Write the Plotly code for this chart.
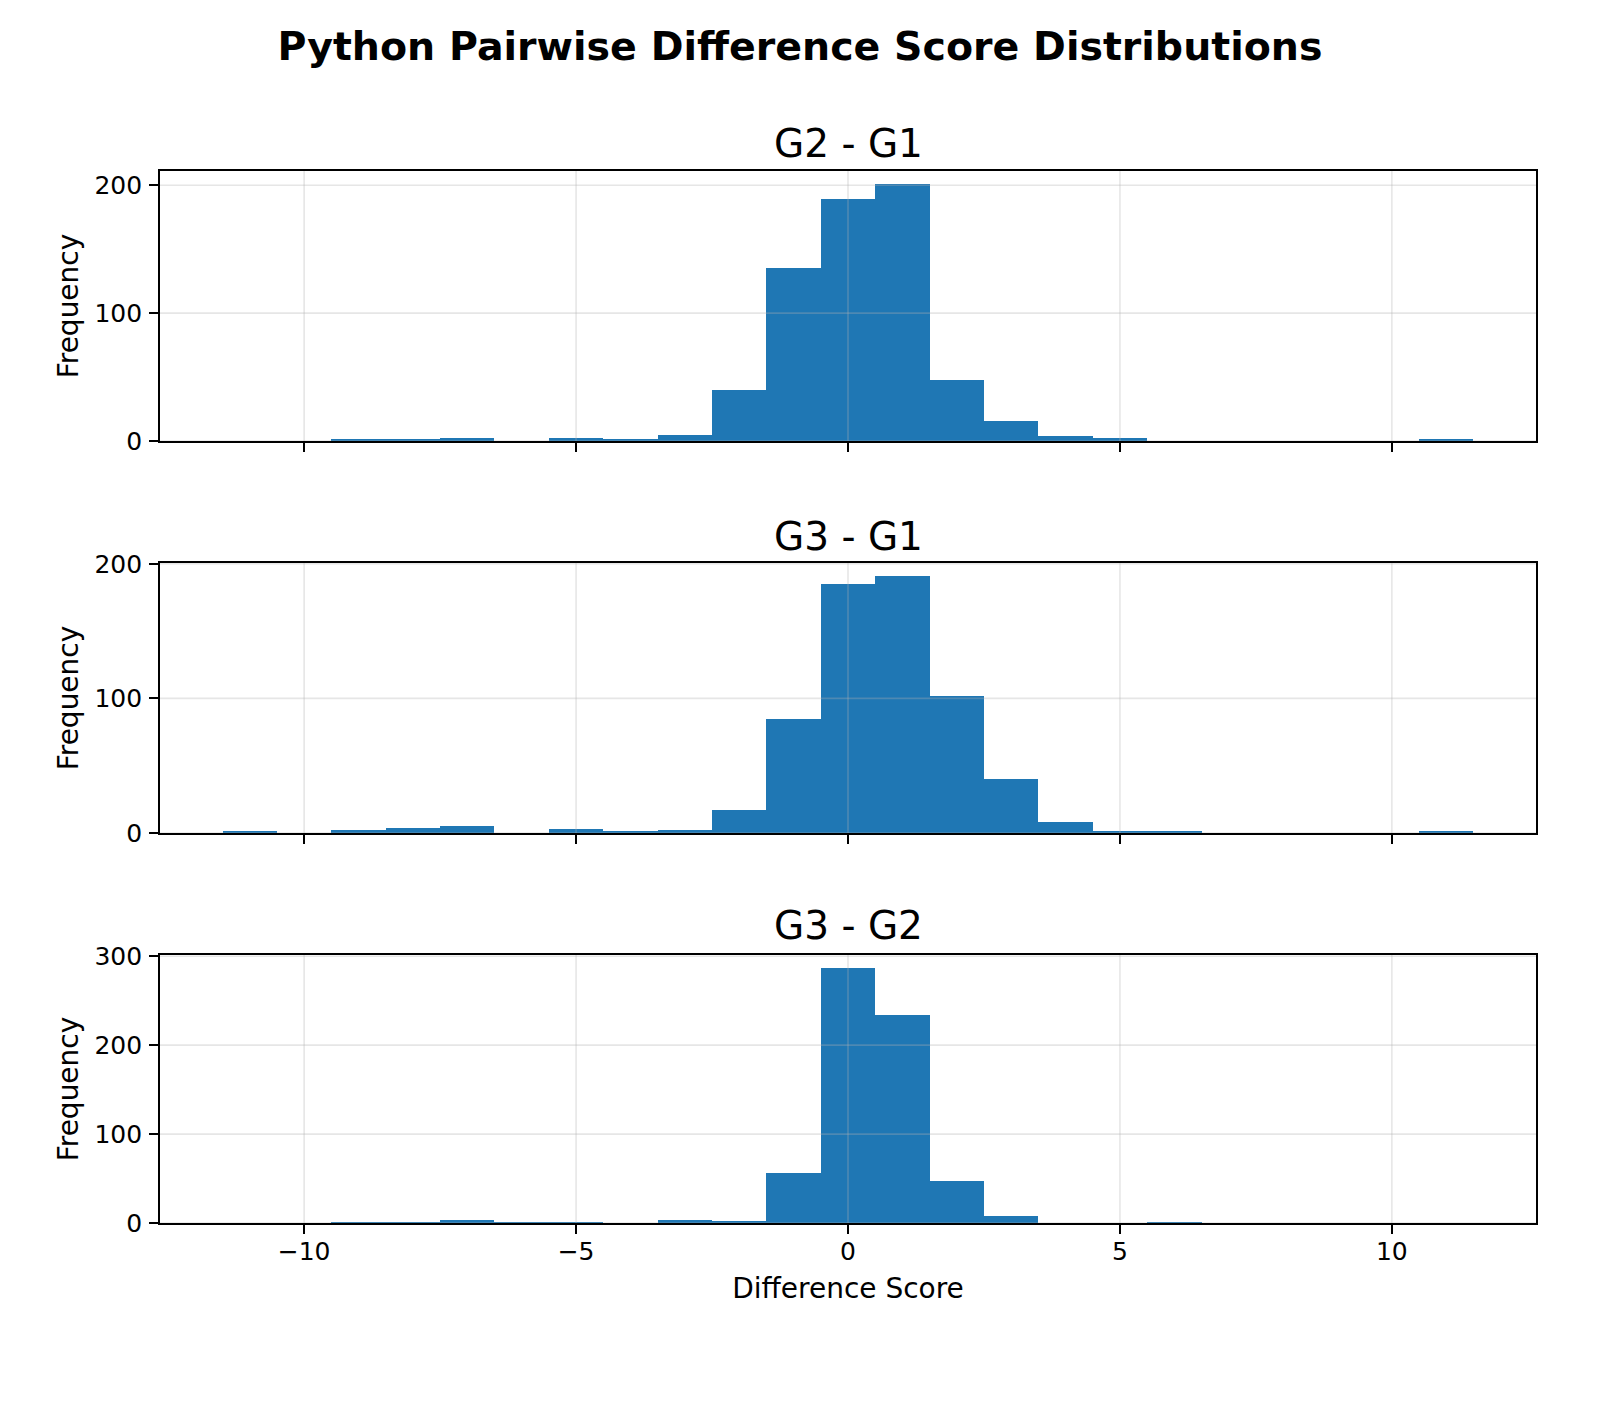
import plotly.graph_objects as go

# ---- data ----
bin_centers = list(range(-11, 12))  # bins of width 1 from -11.5 to 11.5

g2_g1 = [0, 0, 1, 1, 2, 0, 2, 1, 5, 40, 135, 189, 201, 48, 16, 4, 2, 0, 0, 0, 0, 0, 1]
g3_g1 = [1, 0, 2, 4, 5, 0, 3, 1, 2, 17, 85, 185, 191, 102, 40, 8, 1, 1, 0, 0, 0, 0, 1]
g3_g2 = [0, 0, 1, 1, 3, 1, 1, 0, 3, 2, 56, 287, 234, 47, 8, 0, 0, 1, 0, 0, 0, 0, 0]

panel_titles = ["G2 - G1", "G3 - G1", "G3 - G2"]
series = [g2_g1, g3_g1, g3_g2]
y_ranges = [[0, 211.2], [0, 200.6], [0, 301.4]]
y_ticks = [[0, 100, 200], [0, 100, 200], [0, 100, 200, 300]]
x_ticks = [-10, -5, 0, 5, 10]
x_range = [-12.65, 12.65]

# ---- layout geometry ----
W, H = 1600, 1423
ml, mr, mt, mb = 160, 64, 171, 200
ph = H - mt - mb
def py(p):
    return (H - mb - p) / ph

domains = [[py(441), 1.0], [py(833), py(563)], [0.0, py(955)]]
title_y = [py(143), py(536), py(925)]

FONT = "DejaVu Sans"
BLUE = "#1f77b4"
GRID = "rgba(176,176,176,0.32)"
TICK_FS = 25
LABEL_FS = 28

fig = go.Figure()
layout = dict(
    width=W, height=H,
    margin=dict(l=ml, r=mr, t=mt, b=mb, pad=0),
    paper_bgcolor="white", plot_bgcolor="white",
    showlegend=False, bargap=0,
    font=dict(family=FONT, size=TICK_FS, color="black"),
    title=dict(text="<b>Python Pairwise Difference Score Distributions</b>",
               x=0.5, xref="container", xanchor="center",
               y=1 - 46 / H, yref="container", yanchor="middle",
               font=dict(family=FONT, size=39.5, color="black")),
)

shapes = []
annotations = []
for i in range(3):
    xa = "x" if i == 0 else f"x{i+1}"
    ya = "y" if i == 0 else f"y{i+1}"
    fig.add_trace(go.Bar(x=bin_centers, y=series[i], width=1,
                         marker=dict(color=BLUE, line=dict(width=0)),
                         xaxis=xa, yaxis=ya, hoverinfo="x+y"))
    axkey = "" if i == 0 else str(i + 1)
    layout["xaxis" + axkey] = dict(
        domain=[0, 1], anchor=ya, range=x_range, tickvals=x_ticks,
        showticklabels=(i == 2), ticks="outside", ticklen=9, tickwidth=1.6,
        tickcolor="black", showline=True, linecolor="black", linewidth=1.6,
        mirror=True, showgrid=False, zeroline=False,
        ticklabelstandoff=-4,
        tickfont=dict(family=FONT, size=TICK_FS),
        title=dict(text="Difference Score" if i == 2 else "",
                   font=dict(family=FONT, size=LABEL_FS), standoff=14),
    )
    if i != 0:
        layout["xaxis" + axkey]["matches"] = "x"
    layout["yaxis" + axkey] = dict(
        domain=domains[i], anchor=xa, range=y_ranges[i], tickvals=y_ticks[i],
        ticks="outside", ticklen=9, tickwidth=1.6, tickcolor="black",
        showline=True, linecolor="black", linewidth=1.6, mirror=True,
        showgrid=False, zeroline=False,
        ticklabelstandoff=2,
        tickfont=dict(family=FONT, size=TICK_FS),
        title=dict(text="Frequency", font=dict(family=FONT, size=LABEL_FS), standoff=8),
    )
    # grid lines drawn above bars (as in the reference)
    for xv in x_ticks:
        shapes.append(dict(type="line", xref=xa, yref=f"{ya} domain",
                           x0=xv, x1=xv, y0=0, y1=1, layer="above",
                           line=dict(color=GRID, width=1.6)))
    for yv in y_ticks[i]:
        shapes.append(dict(type="line", xref=f"{xa} domain", yref=ya,
                           x0=0, x1=1, y0=yv, y1=yv, layer="above",
                           line=dict(color=GRID, width=1.6)))
    annotations.append(dict(text=panel_titles[i], xref=f"{xa} domain", x=0.5,
                            yref="paper", y=title_y[i], yanchor="middle",
                            xanchor="center", showarrow=False,
                            font=dict(family=FONT, size=39, color="black")))

layout["shapes"] = shapes
layout["annotations"] = annotations
fig.update_layout(**layout)
fig.write_html("out.html")
